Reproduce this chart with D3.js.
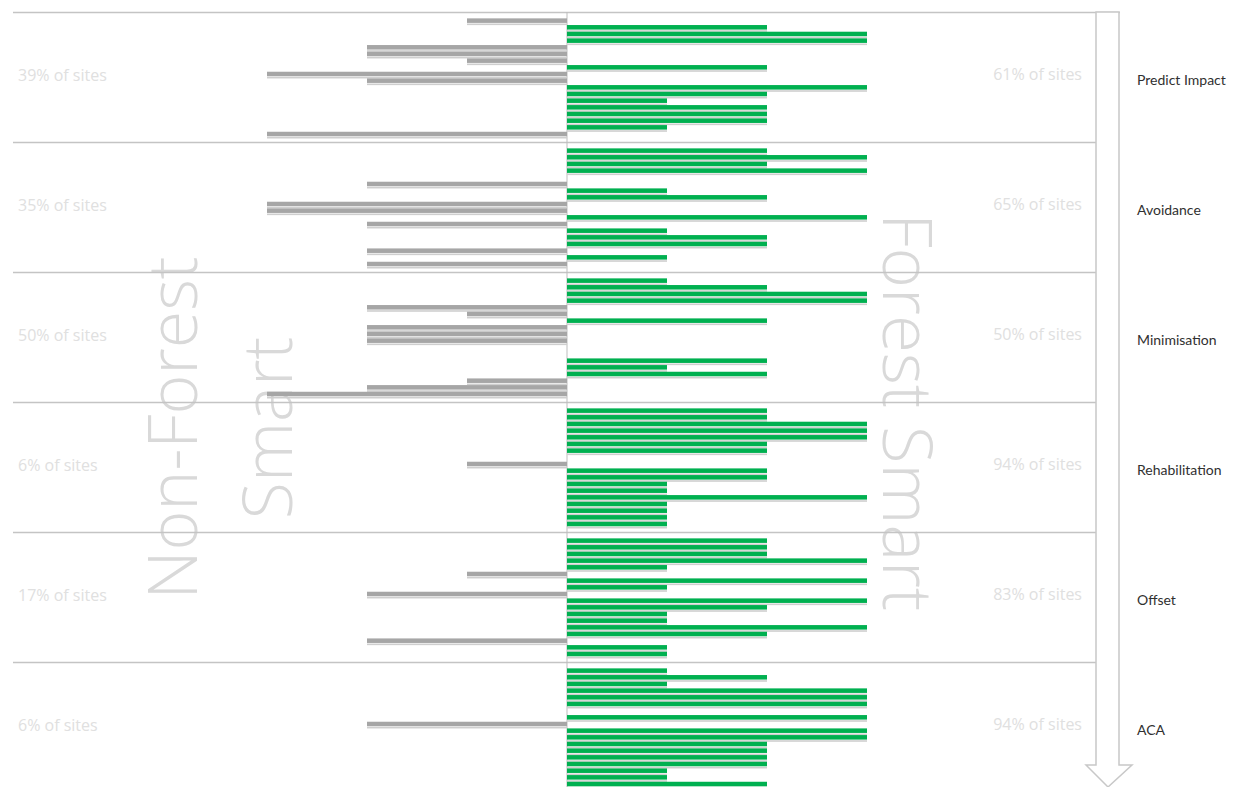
<!DOCTYPE html>
<html>
<head>
<meta charset="utf-8">
<script src="https://cdn.jsdelivr.net/npm/d3@7"></script>
<style>
  html, body { margin: 0; padding: 0; background: #ffffff; }
  svg { display: block; }
</style>
</head>
<body>
<svg id="chart" width="1235" height="787"></svg>
<script>
// ---- DATA ----
// One entry per site, in order from top to bottom.
// Negative value = Non-Forest Smart (grey, drawn left), positive = Forest Smart (green, drawn right), 0 = no bar.
const categories = ["Predict Impact", "Avoidance", "Minimisation", "Rehabilitation", "Offset", "ACA"];
const predictImpact  = [-1, 2, 3, 3, -2, -2, -1, 2, -3, -2, 3, 2, 1, 2, 2, 2, 1, -3];
const avoidance      = [2, 3, 2, 3, 0, -2, 1, 2, -3, -3, 3, -2, 1, 2, 2, -2, 1, -2];
const minimisation   = [1, 2, 3, 3, -2, -1, 2, -2, -2, -2, 0, 0, 2, 1, 2, -1, -2, -3];
const rehabilitation = [2, 2, 3, 3, 3, 2, 2, 0, -1, 2, 2, 1, 1, 3, 1, 1, 1, 1];
const offset         = [2, 2, 2, 3, 1, -1, 3, 1, -2, 3, 2, 1, 1, 3, 2, -2, 1, 1];
const aca            = [1, 2, 1, 3, 3, 3, 0, 3, -2, 3, 3, 2, 2, 2, 2, 1, 1, 2];
const nonForestLabels = ["39% of sites", "35% of sites", "50% of sites", "6% of sites", "17% of sites", "6% of sites"];
const forestLabels    = ["61% of sites", "65% of sites", "50% of sites", "94% of sites", "83% of sites", "94% of sites"];
const sideTitles = ["Non-Forest", "Smart", "Forest Smart"];

const sectionValues = [predictImpact, avoidance, minimisation, rehabilitation, offset, aca];

// ---- LAYOUT ----
const svg = d3.select("#chart");
const top0 = 12, sectionH = 130;
const green = "#00b050", grey = "#a6a6a6", shadow = "#cfcfcf", lineCol = "#c4c4c4";

const x = d3.scaleLinear().domain([-3, 3]).range([267, 867]);
const ySection = d3.scaleBand().domain(categories).range([top0, top0 + sectionH * categories.length]);

// big faint side titles
const titleFont = "'Open Sans', 'DejaVu Sans', sans-serif";
svg.append("text")
  .attr("transform", "translate(197,428) rotate(-90)")
  .attr("text-anchor", "middle")
  .attr("font-family", titleFont).attr("font-weight", 300)
  .attr("font-size", 68).attr("fill", "#d9d9d9")
  .text(sideTitles[0]);
svg.append("text")
  .attr("transform", "translate(292,428) rotate(-90)")
  .attr("text-anchor", "middle")
  .attr("font-family", titleFont).attr("font-weight", 300)
  .attr("font-size", 68).attr("fill", "#d9d9d9")
  .text(sideTitles[1]);
svg.append("text")
  .attr("transform", "translate(883,412) rotate(90)")
  .attr("text-anchor", "middle")
  .attr("font-family", titleFont).attr("font-weight", 300)
  .attr("font-size", 69).attr("fill", "#d9d9d9")
  .text(sideTitles[2]);

// section separator lines
svg.selectAll("line.sep")
  .data(categories)
  .join("line")
  .attr("class", "sep")
  .attr("x1", 13)
  .attr("x2", (d, i) => i === 0 ? 1120 : 1096)
  .attr("y1", d => ySection(d) + 0.5)
  .attr("y2", d => ySection(d) + 0.5)
  .attr("stroke", lineCol).attr("stroke-width", 1.5);

// centre axis
svg.append("line")
  .attr("x1", x(0)).attr("x2", x(0))
  .attr("y1", top0).attr("y2", 787)
  .attr("stroke", "#bdbdbd").attr("stroke-width", 1);

// bars per section
categories.forEach((cat, si) => {
  const vals = sectionValues[si];
  const sy0 = ySection(cat);
  const yRow = d3.scaleBand()
    .domain(d3.range(vals.length))
    .range([sy0 + 5.3, sy0 + 5.3 + vals.length * 6.67])
    .paddingInner(0.32).paddingOuter(0.16);
  const g = svg.append("g");
  const rows = vals.map((v, i) => ({ v, i })).filter(d => d.v !== 0);
  // shadows
  g.selectAll("rect.sh").data(rows).join("rect")
    .attr("class", "sh")
    .attr("x", d => Math.min(x(0), x(d.v)))
    .attr("width", d => Math.abs(x(d.v) - x(0)))
    .attr("y", d => yRow(d.i) + yRow.bandwidth() + 0.6)
    .attr("height", 1.6)
    .attr("fill", shadow);
  // bars
  g.selectAll("rect.bar").data(rows).join("rect")
    .attr("class", "bar")
    .attr("x", d => Math.min(x(0), x(d.v)))
    .attr("width", d => Math.abs(x(d.v) - x(0)))
    .attr("y", d => yRow(d.i))
    .attr("height", yRow.bandwidth())
    .attr("fill", d => d.v < 0 ? grey : green);

  const cy = sy0 + sectionH / 2;
  svg.append("text")
    .attr("x", 18).attr("y", cy - 2).attr("dy", "0.35em")
    .attr("font-family", "'Open Sans', sans-serif").attr("font-size", 16)
    .attr("fill", "#e0e0e0")
    .text(nonForestLabels[si]);
  svg.append("text")
    .attr("x", 1082).attr("y", cy - 3).attr("dy", "0.35em")
    .attr("text-anchor", "end")
    .attr("font-family", "'Open Sans', sans-serif").attr("font-size", 16)
    .attr("fill", "#e0e0e0")
    .text(forestLabels[si]);
  svg.append("text")
    .attr("x", 1137).attr("y", cy + 3).attr("dy", "0.35em")
    .attr("font-family", "Lato, 'Open Sans', sans-serif").attr("font-size", 14)
    .attr("fill", "#303030")
    .text(cat);
});

// downward arrow outline on the right
const arrow = d3.path();
arrow.moveTo(1096, top0);
arrow.lineTo(1119, top0);
arrow.lineTo(1119, 765);
arrow.lineTo(1132, 765);
arrow.lineTo(1108, 787);
arrow.lineTo(1086, 765);
arrow.lineTo(1096, 765);
arrow.closePath();
svg.append("path")
  .attr("d", arrow.toString())
  .attr("fill", "#ffffff")
  .attr("stroke", "#c8c8c8").attr("stroke-width", 1.5);
</script>
</body>
</html>
